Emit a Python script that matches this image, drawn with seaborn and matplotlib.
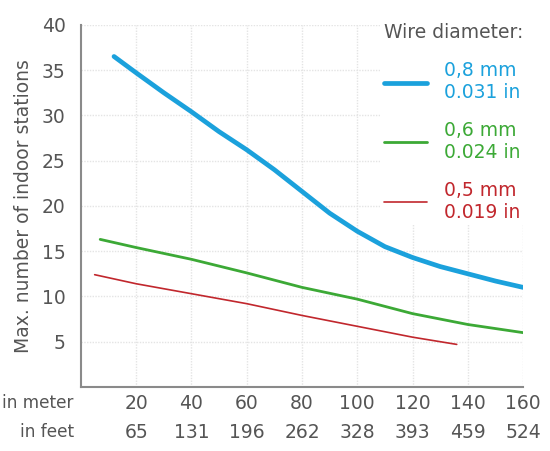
import pandas as pd
import seaborn as sns
import matplotlib.pyplot as plt

# values
x_08 = [12, 20, 30, 40, 50, 60, 70, 80, 90, 100, 110, 120, 130, 140, 150, 160]
y_08 = [36.5, 34.7, 32.5, 30.4, 28.2, 26.2, 24.0, 21.6, 19.2, 17.2, 15.5,
        14.3, 13.3, 12.5, 11.7, 11.0]
x_06 = [7, 20, 40, 60, 80, 100, 120, 140, 160]
y_06 = [16.3, 15.4, 14.1, 12.6, 11.0, 9.7, 8.1, 6.9, 6.0]
x_05 = [5, 20, 40, 60, 80, 100, 120, 136]
y_05 = [12.4, 11.4, 10.3, 9.2, 7.9, 6.7, 5.5, 4.7]

labels = ["0,8 mm\n0.031 in", "0,6 mm\n0.024 in", "0,5 mm\n0.019 in"]
meters = [20, 40, 60, 80, 100, 120, 140, 160]
feet = [65, 131, 196, 262, 328, 393, 459, 524]

colors = {labels[0]: "#1ba1dc", labels[1]: "#3ca936", labels[2]: "#c1272d"}
widths = {labels[0]: 3.4, labels[1]: 2.0, labels[2]: 1.2}

data = pd.concat([
    pd.DataFrame({"m": x_08, "n": y_08, "wire": labels[0]}),
    pd.DataFrame({"m": x_06, "n": y_06, "wire": labels[1]}),
    pd.DataFrame({"m": x_05, "n": y_05, "wire": labels[2]}),
])

sns.set_theme(style="white")
plt.rcParams["font.family"] = ["DejaVu Sans"]
txt = "#555555"
fs = 13.5

fig, ax = plt.subplots(figsize=(5.5, 4.51), dpi=100)
fig.subplots_adjust(left=0.147, right=0.951, bottom=0.142, top=0.945)

sns.lineplot(data=data, x="m", y="n", hue="wire", size="wire",
             palette=colors, sizes=widths, ax=ax)
for ln in ax.get_lines():
    ln.set_solid_joinstyle("round")

ax.set_xlim(0, 160)
ax.set_ylim(0, 40)
ax.set_xticks(meters)
ax.set_xticklabels([f"{m}\n{f}" for m, f in zip(meters, feet)],
                   linespacing=1.65)
ax.set_yticks([5, 10, 15, 20, 25, 30, 35, 40])
ax.tick_params(axis="both", length=0, labelsize=fs, colors=txt)
ax.tick_params(axis="y", pad=11)
ax.tick_params(axis="x", pad=5)
ax.set_xlabel("")
ax.set_ylabel("Max. number of indoor stations", fontsize=fs, color=txt,
              labelpad=6)

ax.grid(True, color="#e4e4e4", linestyle=(0, (1, 1)), linewidth=1)
for s in ["top", "right"]:
    ax.spines[s].set_visible(False)
for s in ["left", "bottom"]:
    ax.spines[s].set_color("#8a8a8a")
    ax.spines[s].set_linewidth(1.5)

fig.text(74 / 550, 1 - 403 / 451, "in meter", ha="right", va="center",
         fontsize=12.2, color=txt)
fig.text(74 / 550, 1 - 432 / 451, "in feet", ha="right", va="center",
         fontsize=12.2, color=txt)

handles, lab = ax.get_legend_handles_labels()
leg = ax.legend(handles, lab, loc="upper right", bbox_to_anchor=(1.03, 1.04),
                title="Wire diameter:", title_fontsize=fs, fontsize=fs,
                labelcolor=[colors[l] for l in lab], frameon=True,
                facecolor="white", edgecolor="none", framealpha=1,
                handlelength=2.3, handletextpad=0.9, labelspacing=1.0,
                alignment="left", borderpad=0.2)
leg.get_title().set_color(txt)
for t in leg.get_texts():
    t.set_linespacing(1.2)

fig.savefig("out.png", dpi=100)
